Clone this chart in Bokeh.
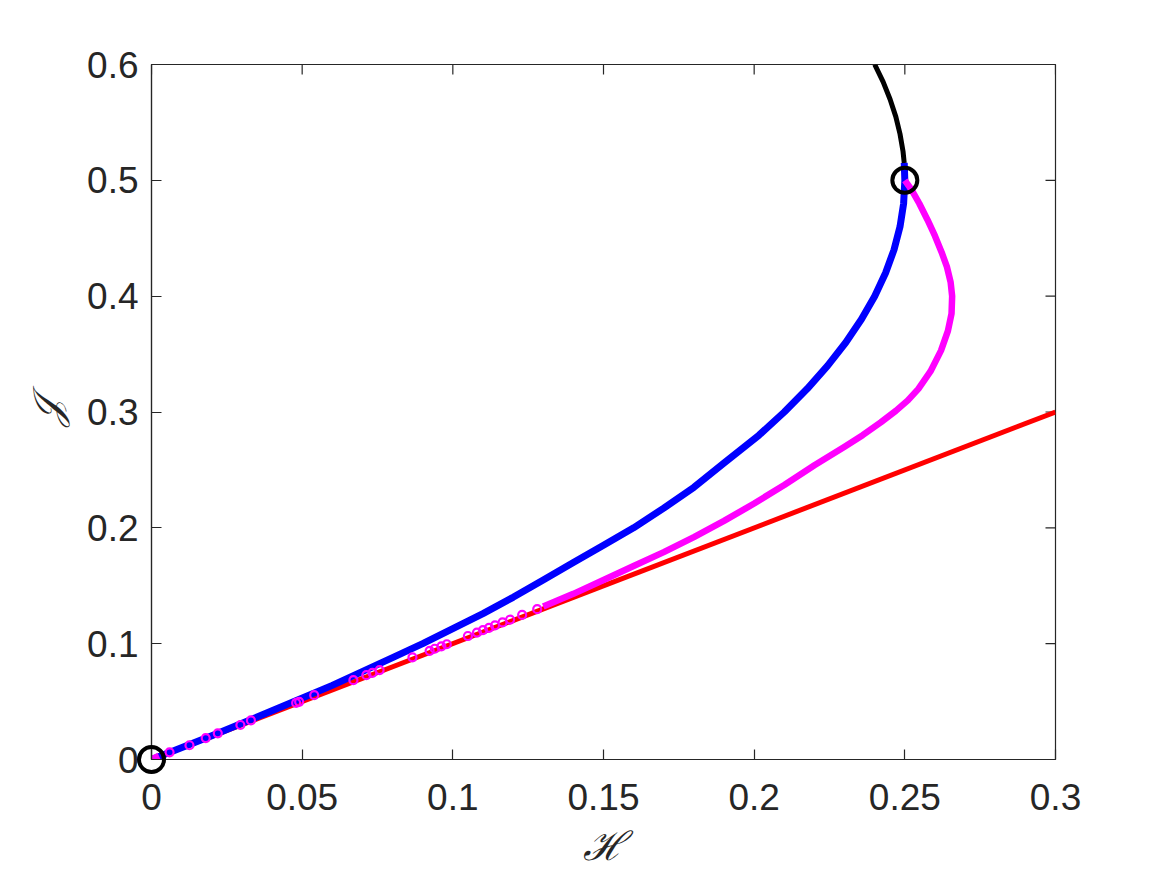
import math
from bokeh.plotting import figure
from bokeh.models import FixedTicker, Range1d
from bokeh.embed import file_html
from bokeh.resources import INLINE

# ---- data ----
x_ticks = [0, 0.05, 0.1, 0.15, 0.2, 0.25, 0.3]
x_tick_labels = ["0", "0.05", "0.1", "0.15", "0.2", "0.25", "0.3"]
y_ticks = [0, 0.1, 0.2, 0.3, 0.4, 0.5, 0.6]
y_tick_labels = ["0", "0.1", "0.2", "0.3", "0.4", "0.5", "0.6"]

red_H = [0.0, 0.3]
red_J = [0.0, 0.3]

blue_H = [0.0, 0.02, 0.04, 0.06, 0.08, 0.09, 0.10, 0.11, 0.12, 0.13, 0.14, 0.15, 0.16,
          0.17, 0.18, 0.19, 0.2016, 0.21, 0.2176, 0.2244, 0.2304, 0.2356, 0.24, 0.2436,
          0.2464, 0.2484, 0.2496, 0.25, 0.2498]
blue_J = [0.0, 0.0205, 0.042, 0.064, 0.088, 0.1, 0.113, 0.126, 0.14, 0.155, 0.17, 0.185, 0.20,
          0.217, 0.235, 0.256, 0.28, 0.30, 0.32, 0.34, 0.36, 0.38, 0.40, 0.42,
          0.44, 0.46, 0.48, 0.5, 0.515]

black_H = [0.2498, 0.2494, 0.2484, 0.247, 0.2451, 0.2428, 0.24]
black_J = [0.515, 0.525, 0.54, 0.555, 0.57, 0.585, 0.6]

magenta_H = [0.13, 0.14, 0.15, 0.16, 0.17, 0.18, 0.19, 0.20, 0.21, 0.22, 0.23,
             0.236, 0.242, 0.247, 0.251, 0.2545, 0.2585, 0.262, 0.2643, 0.2655, 0.2657,
             0.2652, 0.264, 0.2622, 0.2600, 0.2575, 0.2548, 0.2522, 0.25]
magenta_J = [0.132, 0.143, 0.155, 0.167, 0.179, 0.192, 0.206, 0.221, 0.237, 0.254, 0.27,
             0.28, 0.291, 0.301, 0.31, 0.32, 0.335, 0.353, 0.37, 0.385, 0.40,
             0.412, 0.425, 0.438, 0.452, 0.466, 0.48, 0.492, 0.5]

magenta_pts_H = [0.006, 0.0126, 0.018, 0.022, 0.0295, 0.033, 0.048, 0.049, 0.054, 0.067,
                 0.0713, 0.0733, 0.0757, 0.0866, 0.0923, 0.094, 0.0962, 0.098, 0.105,
                 0.108, 0.110, 0.112, 0.114, 0.1165, 0.119, 0.123, 0.128]
magenta_pts_J = [0.0062, 0.0123, 0.0185, 0.0226, 0.0298, 0.0337, 0.0488, 0.0498, 0.0555, 0.0685,
                 0.0728, 0.0748, 0.0772, 0.0882, 0.0938, 0.0956, 0.0977, 0.0995, 0.1066,
                 0.1096, 0.1117, 0.1137, 0.1158, 0.1183, 0.1208, 0.1248, 0.1298]

magenta_origin_H = [0.0, 0.0025]
magenta_origin_J = [0.0, 0.003]

special_H = [0.0, 0.25]
special_J = [0.0, 0.5]

# ---- figure ----
AX = "#262626"
FONT = "Liberation Sans"

p = figure(frame_width=904, frame_height=695,
           min_border_left=151, min_border_right=95,
           min_border_top=64, min_border_bottom=95,
           x_range=Range1d(0, 0.3), y_range=Range1d(0, 0.6),
           output_backend="svg", toolbar_location=None,
           x_axis_label="ℋ", y_axis_label="𝒥")
p.grid.visible = False
p.outline_line_color = AX
p.outline_line_width = 1.2
p.background_fill_color = "white"
p.border_fill_color = "white"

def style_axis(ax, ticks, labels):
    ax.ticker = FixedTicker(ticks=ticks)
    ax.major_label_overrides = {t: l for t, l in zip(ticks, labels)}
    ax.major_tick_in = 10
    ax.major_tick_out = 0
    ax.minor_tick_in = 0
    ax.minor_tick_out = 0
    ax.axis_line_color = AX
    ax.axis_line_width = 1.2
    ax.major_tick_line_color = AX
    ax.major_tick_line_width = 1.2
    ax.major_label_text_font = FONT
    ax.major_label_text_font_size = "37px"
    ax.major_label_text_color = AX
    ax.axis_label_text_font = "DejaVu Serif"
    ax.axis_label_text_font_style = "italic"
    ax.axis_label_text_font_size = "40px"
    ax.axis_label_text_color = AX

xa = p.xaxis[0]
ya = p.yaxis[0]
style_axis(xa, x_ticks, x_tick_labels)
style_axis(ya, y_ticks, y_tick_labels)
xa.major_label_standoff = 24
ya.major_label_standoff = 13
xa.axis_label_standoff = 10
ya.axis_label_standoff = 14

# inward ticks on the top and right edges (box on); half of each dash is clipped by the frame
p.scatter(x_ticks, [0.6] * len(x_ticks), marker="dash", angle=math.pi / 2, size=20,
          line_color=AX, line_width=1.2)
p.scatter([0.3] * len(y_ticks), y_ticks, marker="dash", size=20,
          line_color=AX, line_width=1.2)

p.line(red_H, red_J, line_color="#ff0000", line_width=5)
p.line(blue_H, blue_J, line_color="#0000ff", line_width=7, line_join="round")
p.line(magenta_H, magenta_J, line_color="#ff00ff", line_width=6.5, line_join="round")
p.line(magenta_origin_H, magenta_origin_J, line_color="#ff00ff", line_width=7)
p.scatter(magenta_pts_H, magenta_pts_J, marker="circle", size=8, fill_color=None,
          line_color="#ff00ff", line_width=2.2)
p.line(black_H, black_J, line_color="black", line_width=5, line_join="round")
p.scatter(special_H, special_J, marker="circle", size=25, fill_color=None,
          line_color="black", line_width=4, level="overlay")

open("out.html", "w").write(file_html(p, INLINE))
